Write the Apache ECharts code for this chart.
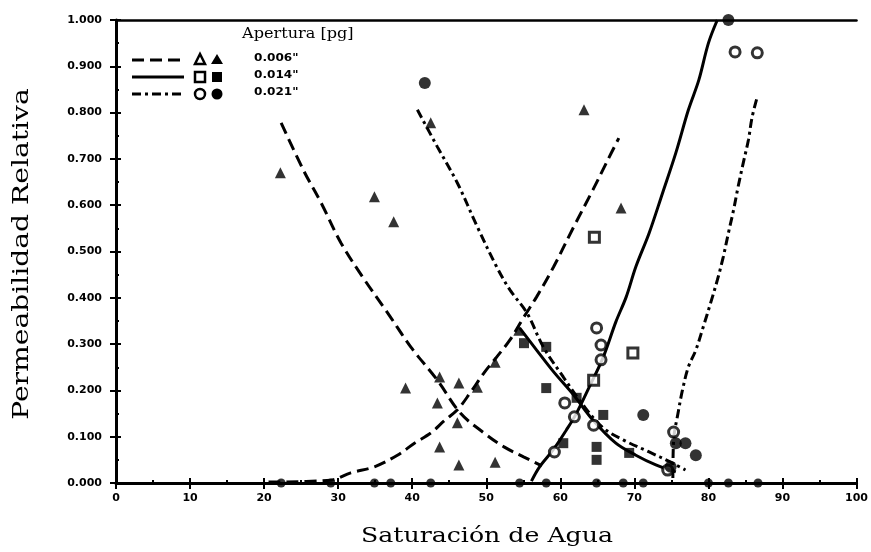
<!DOCTYPE html>
<html>
<head>
<meta charset="utf-8">
<script src="https://cdn.jsdelivr.net/npm/echarts@6/dist/echarts.min.js"></script>
<style>
  html, body { margin: 0; padding: 0; background: #fff; }
  #chart { width: 871px; height: 552px; }
</style>
</head>
<body>
<div id="chart"></div>
<script>
// Relative permeability vs. water saturation for three fracture apertures.

// Fitted curves, aperture 0.006" (dashed)
const krOil006 = [[22.3,0.778],[25.3,0.676],[27.7,0.605],[30.4,0.518],[33.6,0.438],[36.7,0.367],[39.8,0.294],[43.4,0.222],[46.5,0.151],[49.7,0.108],[52.4,0.078],[55.1,0.056],[57.5,0.037]];
const krWater006 = [[20.6,0.002],[29.0,0.006],[31.7,0.022],[34.9,0.035],[38.0,0.060],[40.3,0.086],[42.5,0.108],[44.3,0.134],[46.1,0.158],[47.8,0.194],[49.7,0.238],[51.4,0.272],[53.2,0.309],[55.1,0.359],[56.8,0.402],[59.1,0.467],[61.8,0.553],[64.4,0.633],[66.2,0.691],[67.9,0.745]];

// Fitted curves, aperture 0.014" (solid)
const krOil014 = [[54.5,0.335],[56.8,0.287],[59.1,0.240],[61.8,0.190],[64.4,0.136],[67.5,0.086],[70.2,0.060],[72.9,0.039],[75.6,0.024]];
const krWater014 = [[56.1,0.004],[57.2,0.035],[59.1,0.073],[60.8,0.114],[62.2,0.151],[63.9,0.207],[65.8,0.272],[67.5,0.348],[68.9,0.402],[70.2,0.467],[72.0,0.540],[73.8,0.626],[75.6,0.713],[77.3,0.806],[78.7,0.870],[80.0,0.950],[81.2,1.000]];

// Fitted curves, aperture 0.021" (dash-dot)
const krOil021 = [[40.7,0.806],[43.4,0.726],[46.1,0.648],[48.8,0.553],[51.4,0.467],[53.2,0.417],[55.5,0.367],[57.7,0.294],[60.4,0.229],[63.1,0.168],[65.8,0.119],[68.5,0.093],[72.0,0.067],[74.9,0.045],[76.9,0.028]];
const krWater021 = [[75.2,0.011],[75.3,0.093],[75.9,0.151],[76.5,0.201],[77.3,0.251],[78.3,0.287],[79.3,0.337],[80.3,0.389],[81.2,0.438],[82.0,0.488],[82.7,0.540],[83.4,0.590],[84.0,0.639],[84.7,0.691],[85.4,0.741],[85.9,0.790],[86.6,0.834]];

// Measured points
const triangles006 = [[22.2,0.670],[34.9,0.618],[37.5,0.564],[39.1,0.205],[43.7,0.229],[46.3,0.216],[48.8,0.207],[43.4,0.173],[46.1,0.130],[43.7,0.078],[46.3,0.039],[51.2,0.045],[51.2,0.261],[54.4,0.330],[68.2,0.594],[63.2,0.806],[42.5,0.778]];
const squaresFilled014 = [[55.1,0.302],[58.1,0.294],[58.1,0.205],[62.2,0.184],[65.8,0.147],[64.9,0.078],[64.9,0.050],[60.4,0.086],[69.3,0.065]];
const squaresOpen014 = [[64.6,0.531],[69.8,0.281],[64.5,0.222]];
const circlesOpen021 = [[64.9,0.335],[65.5,0.298],[65.5,0.266],[60.6,0.173],[61.9,0.143],[64.5,0.125],[59.2,0.067],[75.3,0.110],[74.5,0.028],[83.6,0.931],[86.6,0.929]];
const circlesFilled021 = [[41.7,0.864],[82.7,1.000],[71.2,0.147],[78.3,0.060],[75.6,0.086],[76.9,0.086],[74.9,0.035]];
const pointsAtZero = [22.3,29.0,34.9,37.1,42.5,54.5,58.1,64.9,68.5,71.2,80.0,82.7,86.7];

// Axis ticks and legend entries
const xMin = 0, xMax = 100, xStep = 10;
const yMin = 0, yMax = 1, yStep = 0.1;
const legendTitle = 'Apertura [pg]';
const legendLabels = ['0.006"', '0.014"', '0.021"'];
const xTitle = 'Saturación de Agua';
const yTitle = 'Permeabilidad Relativa';

const INK = '#000';
const DASHED = [12, 6];
const DASHDOT = [9, 4, 3, 4];

function curve(name, data, dash) {
  return {
    name, type: 'line', data, smooth: 0.35, showSymbol: false, silent: true,
    lineStyle: { color: INK, width: 3, type: dash },
    z: 3
  };
}
function points(name, data, symbol, size, open) {
  return {
    name, type: 'scatter', data, symbol, symbolSize: size, silent: true,
    itemStyle: open
      ? { color: '#fff', borderColor: INK, borderWidth: 3 }
      : { color: INK },
    z: 4
  };
}

const tickLabel = { color: INK, fontFamily: 'DejaVu Sans', fontWeight: 'bold', fontSize: 11 };

// Legend drawn as graphics: line sample, open marker, filled marker, label
const legendRowsY = [60, 77, 94];
const legendDashes = [DASHED, null, DASHDOT];
const legendGraphics = [
  { type: 'text', x: 242, y: 27, scaleX: 1.15, style: { text: legendTitle, font: '14px "DejaVu Serif"', fill: INK } }
];
legendRowsY.forEach((y, i) => {
  legendGraphics.push({
    type: 'line', shape: { x1: 132, y1: y, x2: 184, y2: y },
    style: { stroke: INK, lineWidth: 3, lineDash: legendDashes[i] || null }
  });
  if (i === 0) {
    legendGraphics.push({ type: 'polygon', shape: { points: [[200, y - 6], [195, y + 4], [205, y + 4]] }, style: { fill: '#fff', stroke: INK, lineWidth: 2.5 } });
    legendGraphics.push({ type: 'polygon', shape: { points: [[217, y - 6], [211, y + 4], [223, y + 4]] }, style: { fill: INK } });
  } else if (i === 1) {
    legendGraphics.push({ type: 'rect', shape: { x: 195, y: y - 5, width: 10, height: 10 }, style: { fill: '#fff', stroke: INK, lineWidth: 2.5 } });
    legendGraphics.push({ type: 'rect', shape: { x: 212, y: y - 5, width: 10, height: 10 }, style: { fill: INK } });
  } else {
    legendGraphics.push({ type: 'circle', shape: { cx: 200, cy: y, r: 5 }, style: { fill: '#fff', stroke: INK, lineWidth: 2.5 } });
    legendGraphics.push({ type: 'circle', shape: { cx: 217, cy: y, r: 5.5 }, style: { fill: INK } });
  }
  legendGraphics.push({
    type: 'text', x: 254, y: y - 7, scaleX: 1.1,
    style: { text: legendLabels[i], font: 'bold 11px "DejaVu Sans"', fill: INK }
  });
});

// Axis titles (serif)
const titleGraphics = [
  { type: 'text', x: 487, y: 537, scaleX: 1.2,
    style: { text: xTitle, font: '21px "DejaVu Serif"', fill: INK, textAlign: 'center', textVerticalAlign: 'middle' } },
  { type: 'text', x: 22, y: 254, rotation: Math.PI / 2, scaleX: 1.28,
    style: { text: yTitle, font: '22px "DejaVu Serif"', fill: INK, textAlign: 'center', textVerticalAlign: 'middle' } }
];

const chart = echarts.init(document.getElementById('chart'), null, { renderer: 'canvas' });
chart.setOption({
  animation: false,
  backgroundColor: '#fff',
  grid: { left: 116, right: 9, top: 20, bottom: 69, containLabel: false },
  xAxis: [
    {
      type: 'value', min: xMin, max: xMax, interval: xStep, position: 'bottom',
      axisLine: { show: true, lineStyle: { color: INK, width: 3 } },
      axisTick: { show: true, length: 6, lineStyle: { color: INK, width: 2 } },
      axisLabel: Object.assign({ margin: 10 }, tickLabel),
      splitLine: { show: false }
    },
    {
      type: 'value', min: xMin, max: xMax, interval: xStep, position: 'bottom',
      axisLine: { show: false },
      axisTick: { show: true, inside: true, length: 5, lineStyle: { color: INK, width: 2 } },
      minorTick: { show: true, splitNumber: 2, length: 3, lineStyle: { color: INK, width: 2 } },
      axisLabel: { show: false }, splitLine: { show: false }
    },
    {
      type: 'value', min: xMin, max: xMax, position: 'top',
      axisLine: { show: true, lineStyle: { color: INK, width: 2.5 } },
      axisTick: { show: false }, axisLabel: { show: false }, splitLine: { show: false }
    }
  ],
  yAxis: [
    {
      type: 'value', min: yMin, max: yMax, interval: yStep, position: 'left',
      axisLine: { show: true, lineStyle: { color: INK, width: 3 } },
      axisTick: { show: true, length: 6, lineStyle: { color: INK, width: 2 } },
      axisLabel: Object.assign({ margin: 14, formatter: v => v.toFixed(3) }, tickLabel),
      splitLine: { show: false }
    },
    {
      type: 'value', min: yMin, max: yMax, interval: yStep, position: 'left',
      axisLine: { show: false },
      axisTick: { show: true, inside: true, length: 5, lineStyle: { color: INK, width: 2 } },
      minorTick: { show: true, splitNumber: 2, length: 3, lineStyle: { color: INK, width: 2 } },
      axisLabel: { show: false }, splitLine: { show: false }
    }
  ],
  series: [
    curve('kro 0.006', krOil006, DASHED),
    curve('krw 0.006', krWater006, DASHED),
    curve('kro 0.014', krOil014, 'solid'),
    curve('krw 0.014', krWater014, 'solid'),
    curve('kro 0.021', krOil021, DASHDOT),
    curve('krw 0.021', krWater021, DASHDOT),
    points('0.006 triángulos', triangles006, 'triangle', 11, false),
    points('0.014 cuadrados', squaresFilled014, 'rect', 10, false),
    points('0.014 cuadrados abiertos', squaresOpen014, 'rect', 10, true),
    points('0.021 círculos abiertos', circlesOpen021, 'circle', 10, true),
    points('0.021 círculos', circlesFilled021, 'circle', 12, false),
    points('Sw en cero', pointsAtZero.map(x => [x, 0]), 'circle', 9, false)
  ],
  graphic: legendGraphics.concat(titleGraphics)
});
</script>
</body>
</html>
